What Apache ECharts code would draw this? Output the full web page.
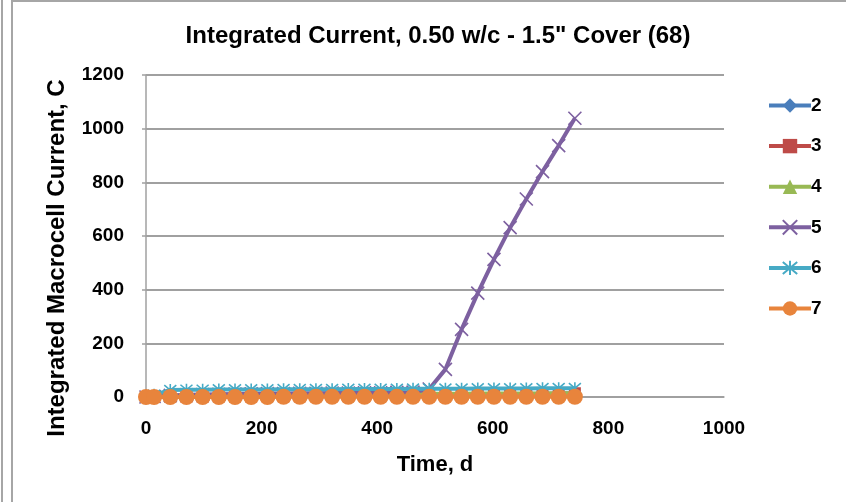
<!DOCTYPE html>
<html>
<head>
<meta charset="utf-8">
<script src="https://cdn.jsdelivr.net/npm/echarts@6/dist/echarts.min.js"></script>
<style>
html,body{margin:0;padding:0;background:#fff;}
#chart{width:846px;height:502px;}
</style>
</head>
<body>
<div id="chart"></div>
<script>
const titleText = 'Integrated Current, 0.50 w/c - 1.5" Cover (68)';
const xAxisName = 'Time, d';
const yAxisName = 'Integrated Macrocell Current, C';
const seriesNames = ['2', '3', '4', '5', '6', '7'];
const days = [0, 14, 42, 70, 98, 126, 154, 182, 210, 238, 266, 294, 322, 350, 378, 406, 434, 462, 490, 518, 546, 574, 602, 630, 658, 686, 714, 742];
const s2 = [0, 1, 2, 2, 3, 3, 3, 4, 4, 4, 4, 5, 5, 5, 5, 6, 6, 6, 6, 7, 7, 7, 8, 8, 8, 9, 9, 9];
const s3 = [0, 0, 1, 1, 1, 2, 2, 2, 3, 3, 3, 4, 4, 4, 5, 5, 5, 6, 6, 7, 7, 8, 9, 10, 11, 12, 13, 14];
const s4 = [0, 1, 3, 4, 5, 6, 7, 8, 8, 9, 9, 10, 10, 10, 11, 11, 11, 12, 12, 12, 12, 13, 13, 13, 13, 13, 14, 14];
const s5 = [0, 2, 6, 8, 9, 10, 11, 12, 13, 13, 14, 14, 15, 15, 16, 16, 17, 18, 30, 103, 252, 387, 513, 631, 738, 840, 937, 1039];
const s6 = [0, 8, 26, 27, 27, 28, 28, 28, 28, 29, 29, 29, 29, 30, 30, 30, 30, 31, 31, 31, 31, 32, 32, 32, 32, 33, 33, 33];
const s7 = [0, 0, 0, 0, 0, 0, 0, 0, 0, 1, 1, 1, 1, 1, 1, 1, 1, 1, 1, 1, 1, 1, 1, 1, 1, 1, 1, 1];
const xTicks = [0, 200, 400, 600, 800, 1000];
const yTicks = [0, 200, 400, 600, 800, 1000, 1200];

const allValues = [s2, s3, s4, s5, s6, s7];
const colors = ['#4A7EBB', '#BE4B48', '#98B954', '#7D60A0', '#46AAC5', '#E8843C'];
const symbols = [
  'diamond',
  'rect',
  'triangle',
  'path://M0,0L10,10M10,0L0,10',
  'path://M0,0L10,10M10,0L0,10M5,-1L5,11',
  'circle'
];
const symbolSizes = [13, 12, 12, 13, 12, 16];

const labelFont = '"Liberation Sans", Arial, sans-serif';

const series = seriesNames.map((name, i) => {
  const stroked = i === 3 || i === 4;
  return {
    name: name,
    type: 'line',
    data: days.map((d, j) => [d, allValues[i][j]]),
    symbol: symbols[i],
    symbolSize: symbolSizes[i],
    showAllSymbol: true,
    lineStyle: { color: colors[i], width: 4 },
    itemStyle: stroked
      ? { color: 'rgba(0,0,0,0)', borderColor: colors[i], borderWidth: 1.6 }
      : { color: colors[i], borderColor: colors[i], borderWidth: 0 },
    emphasis: { disabled: true },
    animation: false,
    z: 2 + i
  };
});

const fmt = v => String(v);

const chart = echarts.init(document.getElementById('chart'), null, { renderer: 'canvas' });
chart.setOption({
  backgroundColor: '#fff',
  animation: false,
  title: {
    text: titleText,
    left: 433,
    top: 19,
    textAlign: 'center',
    textStyle: { fontFamily: labelFont, fontWeight: 'bold', fontSize: 24, color: '#000' }
  },
  graphic: [
    { type: 'line', shape: { x1: 2, y1: 0, x2: 2, y2: 502 }, style: { stroke: '#a6a6a6', lineWidth: 2 } },
    { type: 'rect', shape: { x: 12, y: 1, width: 840, height: 510 }, style: { stroke: '#a6a6a6', lineWidth: 2, fill: 'none' } },
    {
      type: 'text', x: 57, y: 258, rotation: Math.PI / 2,
      style: {
        text: yAxisName, fontFamily: labelFont, fontWeight: 'bold', fontSize: 24, fill: '#000',
        textAlign: 'center', textVerticalAlign: 'middle'
      }
    }
  ],
  legend: {
    orient: 'vertical',
    left: 762,
    top: 91,
    itemWidth: 42,
    itemHeight: 18,
    itemGap: 21.6,
    data: seriesNames,
    lineStyle: { width: 4 },
    textStyle: { fontFamily: labelFont, fontWeight: 'bold', fontSize: 19, color: '#000', padding: [0, 0, 0, -5] }
  },
  grid: { left: 146, top: 75, width: 578, height: 322, containLabel: false },
  xAxis: {
    type: 'value',
    min: xTicks[0],
    max: xTicks[xTicks.length - 1],
    interval: xTicks[1] - xTicks[0],
    name: xAxisName,
    nameLocation: 'middle',
    nameGap: 57,
    nameTextStyle: { fontFamily: labelFont, fontWeight: 'bold', fontSize: 22, color: '#000' },
    axisLine: { show: true, onZero: false, lineStyle: { color: '#a0a0a0', width: 1.5 } },
    axisTick: { show: false },
    splitLine: { show: false },
    axisLabel: { margin: 22, formatter: fmt, fontFamily: labelFont, fontWeight: 'bold', fontSize: 19, color: '#000' }
  },
  yAxis: {
    type: 'value',
    min: yTicks[0],
    max: yTicks[yTicks.length - 1],
    interval: yTicks[1] - yTicks[0],
    axisLine: { show: true, lineStyle: { color: '#a0a0a0', width: 1.5 } },
    axisTick: { show: true, length: 4, lineStyle: { color: '#a0a0a0', width: 1.5 } },
    splitLine: { show: true, lineStyle: { color: '#a0a0a0', width: 2 } },
    axisLabel: { margin: 22, formatter: fmt, fontFamily: labelFont, fontWeight: 'bold', fontSize: 19, color: '#000' }
  },
  series: series
});
</script>
</body>
</html>
